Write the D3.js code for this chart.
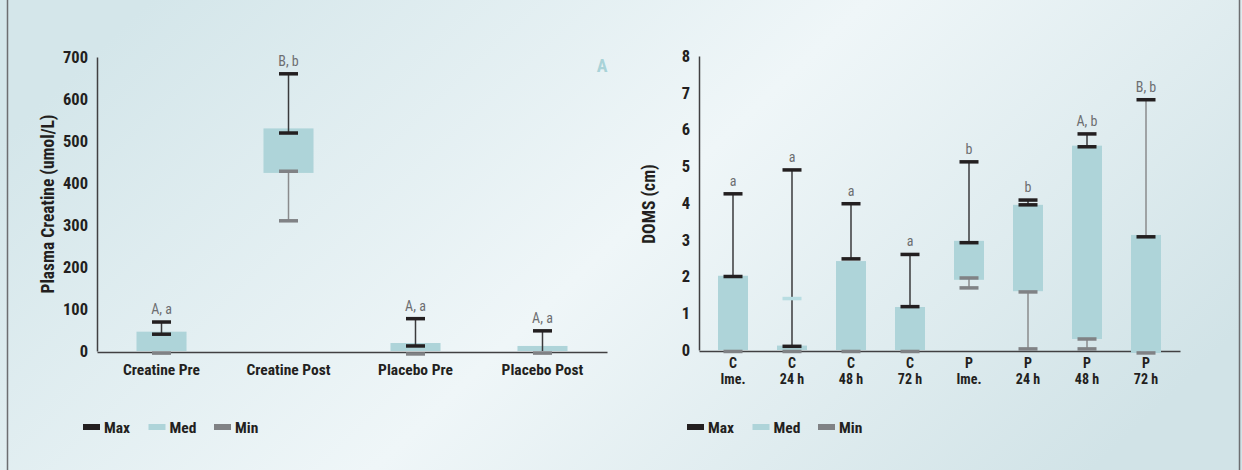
<!DOCTYPE html>
<html><head><meta charset="utf-8">
<script src="https://cdn.jsdelivr.net/npm/d3@7"></script>
<style>
html,body{margin:0;padding:0;background:#e4eff2;}
svg{display:block;}
text{font-family:"Liberation Sans Narrow","Roboto Condensed","DejaVu Sans Condensed",sans-serif;}
</style></head>
<body>
<svg id="c" width="1242" height="470"></svg>
<script>
// ---------- data ----------
const leftCategories = ["Creatine Pre","Creatine Post","Placebo Pre","Placebo Post"];
const leftBoxLow  = [0, 424, 0, 0];
const leftBoxHigh = [46, 530, 19, 12];
const leftMaxCaps = [[69,40],[660,519],[77,12],[48]];
const leftMinCaps = [[-5],[428,310],[-7],[-5]];
const leftDarkWhisker = [[69,40],[660,519],[77,12],[48,0]];
const leftGrayWhisker = [null,[428,310],null,null];
const leftLetters = ["A, a","B, b","A, a","A, a"];
const leftTicks = [0,100,200,300,400,500,600,700];

const rightCategories = [["C","Ime."],["C","24 h"],["C","48 h"],["C","72 h"],["P","Ime."],["P","24 h"],["P","48 h"],["P","72 h"]];
const rightBoxLow  = [0, 0, 0, 0, 1.91, 1.6, 0.3, -0.08];
const rightBoxHigh = [2.02, 0.12, 2.42, 1.17, 2.97, 3.95, 5.56, 3.13];
const rightMaxCaps = [[4.25,2.0],[4.9,0.1],[3.98,2.48],[2.6,1.18],[5.12,2.92],[4.08,3.95],[5.88,5.53],[6.81,3.08]];
const rightMedCaps = [[],[1.4],[],[],[],[],[],[]];
const rightMinCaps = [[-0.04],[-0.04],[-0.04],[-0.04],[1.96,1.69],[1.58,0.03],[0.3,0.03],[-0.08]];
const rightDarkWhisker = [[4.25,2.0],[4.9,0.1],[3.98,2.48],[2.6,1.18],[5.12,2.92],[4.08,3.95],[5.88,5.53],null];
const rightGrayWhisker = [null,null,null,null,[1.96,1.69],[1.58,0.03],[0.3,0.03],[6.81,3.08]];
const rightLetters = ["a","a","a","a","b","b","A, b","B, b"];
const rightTicks = [0,1,2,3,4,5,6,7,8];

const legendItems = ["Max","Med","Min"];
const colors = {Max:"#231f20", Med:"#aed4d9", Min:"#808285"};

// ---------- drawing ----------
const svg = d3.select("#c");
const defs = svg.append("defs");
const lg = defs.append("linearGradient").attr("id","bg").attr("x1","0").attr("x2","1").attr("y1","0.3").attr("y2","0.7");
lg.append("stop").attr("offset","0").attr("stop-color","#d4e6ea");
lg.append("stop").attr("offset","0.5").attr("stop-color","#eff6f8");
lg.append("stop").attr("offset","1").attr("stop-color","#d1e3e7");
svg.append("rect").attr("x",0).attr("y",0).attr("width",1242).attr("height",470).attr("fill","url(#bg)");
svg.append("line").attr("x1",7.5).attr("x2",7.5).attr("y1",0).attr("y2",470).attr("stroke","#6d6e71").attr("stroke-width",1.5);
svg.append("line").attr("x1",1239.5).attr("x2",1239.5).attr("y1",0).attr("y2",470).attr("stroke","#6d6e71").attr("stroke-width",1.5);

function panel(cfg){
  const g = svg.append("g");
  const x = d3.scaleBand().domain(d3.range(cfg.cats.length)).range(cfg.xr)
      .paddingInner(cfg.pi).paddingOuter(cfg.po);
  const y = d3.scaleLinear().domain(cfg.yd).range(cfg.yr);
  const capW = 19, capH = 3.5;
  const cx = i => x(i) + x.bandwidth()/2;

  // y axis
  const ya = g.append("g").attr("transform",`translate(${cfg.xr[0]},0)`)
    .call(d3.axisLeft(y).tickValues(cfg.ticks).tickSize(0).tickPadding(9).tickSizeOuter(0));
  ya.select(".domain").attr("stroke","#414042").attr("stroke-width",1.5);
  ya.selectAll("text").attr("font-size",16.5).attr("font-weight","bold").attr("fill","#231f20");

  // x axis
  const xa = g.append("g").attr("transform",`translate(0,${cfg.yr[0]+1})`)
    .call(d3.axisBottom(x).tickSize(0).tickSizeOuter(0).tickFormat(""));
  xa.select(".domain").attr("stroke","#414042").attr("stroke-width",1.5);
  xa.selectAll(".tick").each(function(d){
    const sel = d3.select(this);
    const lab = cfg.cats[d];
    const mk = (yy,fs,s)=>sel.append("text").attr("fill","#231f20").attr("font-size",fs)
      .attr("font-weight","bold").attr("text-anchor","middle").attr("x",0).attr("y",yy).text(s);
    if (Array.isArray(lab)) {
      mk(17,14,lab[0]);
      mk(33,14,lab[1]);
    } else {
      mk(23,15.5,lab);
    }
  });

  // boxes
  g.selectAll(".box").data(cfg.boxLow).enter().append("rect")
    .attr("x",(d,i)=>x(i)).attr("width",x.bandwidth())
    .attr("y",(d,i)=>y(cfg.boxHigh[i])).attr("height",(d,i)=>y(d)-y(cfg.boxHigh[i]))
    .attr("fill",colors.Med);

  // whiskers
  cfg.dark.forEach((w,i)=>{ if(!w) return;
    g.append("line").attr("x1",cx(i)).attr("x2",cx(i)).attr("y1",y(w[0])).attr("y2",y(w[1]))
      .attr("stroke","#3a3a3c").attr("stroke-width",1.5);
  });
  cfg.gray.forEach((w,i)=>{ if(!w) return;
    g.append("line").attr("x1",cx(i)).attr("x2",cx(i)).attr("y1",y(w[0])).attr("y2",y(w[1]))
      .attr("stroke","#8a8b8d").attr("stroke-width",1.5);
  });

  // caps
  const caps = (arr,col)=>arr.forEach((vals,i)=>vals.forEach(v=>{
    g.append("rect").attr("x",cx(i)-capW/2).attr("width",capW)
      .attr("y",y(v)-capH/2).attr("height",capH).attr("fill",col);
  }));
  caps(cfg.minCaps, colors.Min);
  if (cfg.medCaps) caps(cfg.medCaps, "#b8dde2");
  caps(cfg.maxCaps, colors.Max);

  // letters
  cfg.letters.forEach((l,i)=>{
    const top = d3.max(cfg.maxCaps[i]);
    g.append("text").attr("x",cx(i)).attr("y",y(top)-8).attr("text-anchor","middle")
      .attr("font-size",14).attr("fill","#6d6e71").text(l);
  });

  // y title
  g.append("text").attr("transform",`translate(${cfg.titleX},${cfg.titleY}) rotate(-90)`)
    .attr("text-anchor","middle").attr("font-size",17.5).attr("font-weight","bold")
    .attr("fill","#231f20").text(cfg.title);

  // legend
  const lgd = g.append("g").attr("transform",`translate(${cfg.legX},427)`);
  legendItems.forEach((k,i)=>{
    const o = i*cfg.legStep;
    lgd.append("rect").attr("x",o).attr("y",-3).attr("width",17).attr("height",6).attr("fill",colors[k]);
    lgd.append("text").attr("x",o+21).attr("y",5.5).attr("font-size",15.5).attr("font-weight","bold")
      .attr("fill","#231f20").text(k);
  });
}

panel({cats:leftCategories, xr:[97,607], pi:0.606, po:0.311, yd:[0,700], yr:[351,57], ticks:leftTicks,
  boxLow:leftBoxLow, boxHigh:leftBoxHigh, maxCaps:leftMaxCaps, minCaps:leftMinCaps,
  dark:leftDarkWhisker, gray:leftGrayWhisker, letters:leftLetters,
  title:"Plasma Creatine (umol/L)", titleX:54, titleY:204, legX:83, legStep:65.5});

panel({cats:rightCategories, xr:[699,1180], pi:0.4915, po:0.322, yd:[0,8], yr:[350,56], ticks:rightTicks,
  boxLow:rightBoxLow, boxHigh:rightBoxHigh, maxCaps:rightMaxCaps, medCaps:rightMedCaps, minCaps:rightMinCaps,
  dark:rightDarkWhisker, gray:rightGrayWhisker, letters:rightLetters,
  title:"DOMS (cm)", titleX:655, titleY:204, legX:687, legStep:65.5});

svg.append("text").attr("x",602).attr("y",72).attr("text-anchor","middle").attr("font-size",18)
  .attr("font-weight","bold").attr("fill","#a9d3d8").text("A");
</script>
</body></html>
